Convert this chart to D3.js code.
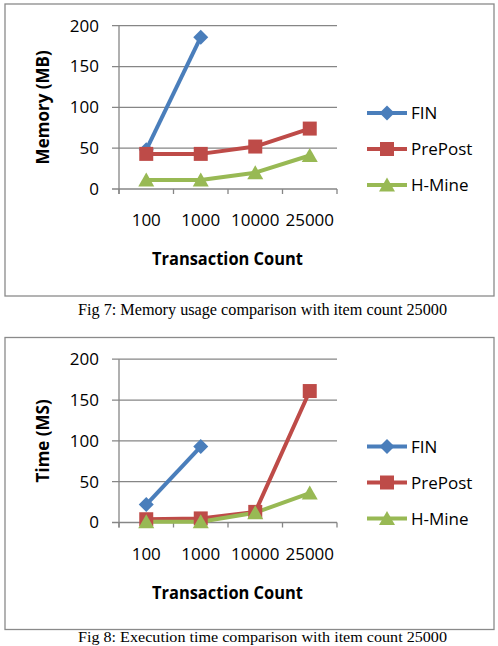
<!DOCTYPE html>
<html><head><meta charset="utf-8">
<script src="https://cdn.jsdelivr.net/npm/d3@7"></script>
<style>html,body{margin:0;padding:0;background:#fff;overflow:hidden}</style>
</head><body>
<svg id="c" width="498" height="646"></svg>
<script>
const categories = ["100", "1000", "10000", "25000"];
const yTicks = [0, 50, 100, 150, 200];
const seriesNames = ["FIN", "PrePost", "H-Mine"];
const memFIN = [48, 186];
const memPrePost = [43, 43, 52, 74];
const memHMine = [11, 11, 20, 41];
const timeFIN = [22, 93];
const timePrePost = [4, 5, 13, 161];
const timeHMine = [1, 1, 12, 36];
const yTitles = ["Memory (MB)", "Time (MS)"];
const xTitle = "Transaction Count";
const captions = ["Fig 7: Memory usage comparison with item count 25000",
                  "Fig 8: Execution time comparison with item count 25000"];

const colors = {"FIN": "#4A7EBB", "PrePost": "#BE4B48", "H-Mine": "#98B954"};
const markers = {"FIN": "diamond", "PrePost": "square", "H-Mine": "triangle"};
const font = "'Open Sans', sans-serif";

const svg = d3.select("#c");

function markerPath(type) {
  if (type === "diamond") return "M0,-7.5L7.5,0L0,7.5L-7.5,0Z";
  if (type === "square") return "M-7,-7H7V7H-7Z";
  return "M0,-7.5L8,6.5L-8,6.5Z";
}

function drawChart(offsetY, seriesData, yTitle, caption, capY, capSize) {
  const g = svg.append("g").attr("transform", `translate(0,${offsetY})`);
  g.append("rect").attr("x", 5).attr("y", 4).attr("width", 489).attr("height", 292)
    .attr("fill", "#fff").attr("stroke", "#8a8a8a").attr("stroke-width", 1.3);

  const x = d3.scaleBand().domain(categories).range([119, 337]).padding(0);
  const y = d3.scaleLinear().domain([0, 200]).range([189, 25.7]);

  g.append("g").selectAll("line").data(yTicks).join("line")
    .attr("x1", 112).attr("x2", 337)
    .attr("y1", d => y(d)).attr("y2", d => y(d))
    .attr("stroke", "#868686").attr("stroke-width", 1.3);

  const ya = g.append("g").attr("transform", "translate(119,0)")
    .call(d3.axisLeft(y).tickValues(yTicks).tickSize(0).tickPadding(20));
  ya.select(".domain").attr("stroke", "#868686").attr("stroke-width", 1.3)
    .attr("d", `M0,${y(200)}V${y(0) + 5}`);
  ya.selectAll("text").attr("font-family", font).attr("font-size", 17).attr("fill", "#000");

  const bounds = categories.map(c => x(c)).concat([x(categories[categories.length - 1]) + x.bandwidth()]);
  g.append("g").selectAll("line").data(bounds).join("line")
    .attr("x1", d => d).attr("x2", d => d)
    .attr("y1", y(0)).attr("y2", y(0) + 5)
    .attr("stroke", "#868686").attr("stroke-width", 1.3);
  g.append("g").selectAll("text").data(categories).join("text")
    .attr("x", d => x(d) + x.bandwidth() / 2).attr("y", 226)
    .attr("text-anchor", "middle").attr("font-family", font).attr("font-size", 17)
    .text(d => d);

  g.append("text").attr("x", 227.5).attr("y", 265).attr("text-anchor", "middle")
    .attr("font-family", font).attr("font-weight", "bold").attr("font-size", 17)
    .attr("textLength", 151).attr("lengthAdjust", "spacingAndGlyphs").text(xTitle);
  g.append("text").attr("transform", `translate(49,${(y(0) + y(200)) / 2}) rotate(-90)`)
    .attr("text-anchor", "middle").attr("font-family", font).attr("font-weight", "bold")
    .attr("font-size", 17).text(yTitle);

  const line = d3.line().x((d, i) => x(categories[i]) + x.bandwidth() / 2).y(d => y(d));
  seriesNames.forEach(name => {
    g.append("path").datum(seriesData[name]).attr("d", line).attr("fill", "none")
      .attr("stroke", colors[name]).attr("stroke-width", 4).attr("stroke-linejoin", "round");
  });
  seriesNames.forEach(name => {
    g.append("g").selectAll("path").data(seriesData[name]).join("path")
      .attr("transform", (d, i) => `translate(${x(categories[i]) + x.bandwidth() / 2},${y(d)})`)
      .attr("d", markerPath(markers[name])).attr("fill", colors[name]);
  });

  const legY = [113, 149, 185];
  seriesNames.forEach((name, i) => {
    const lg = g.append("g").attr("transform", `translate(0,${legY[i]})`);
    lg.append("line").attr("x1", 367).attr("x2", 407).attr("y1", 0).attr("y2", 0)
      .attr("stroke", colors[name]).attr("stroke-width", 4);
    lg.append("path").attr("transform", "translate(387,0)").attr("d", markerPath(markers[name]))
      .attr("fill", colors[name]);
    lg.append("text").attr("x", 411).attr("y", 6).attr("font-family", font).attr("font-size", 17)
      .text(name);
  });

  g.append("text").attr("x", 262.5).attr("y", capY).attr("text-anchor", "middle")
    .attr("font-family", "'Liberation Serif', serif").attr("font-size", capSize)
    .attr("textLength", 369).attr("lengthAdjust", "spacingAndGlyphs").text(caption);
}

drawChart(0, {"FIN": memFIN, "PrePost": memPrePost, "H-Mine": memHMine}, yTitles[0], captions[0], 315, 16);
drawChart(333.5, {"FIN": timeFIN, "PrePost": timePrePost, "H-Mine": timeHMine}, yTitles[1], captions[1], 308.5, 14);
</script>
</body></html>
